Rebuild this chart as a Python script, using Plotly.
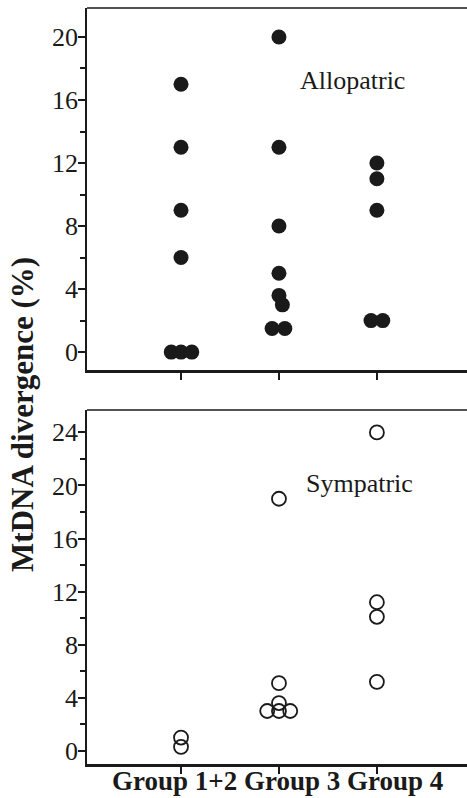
import plotly.graph_objects as go

# ---------------- data ----------------
categories = ["Group 1+2", "Group 3", "Group 4"]

# Allopatric (filled dots)
allo_g12 = [17, 13, 9, 6, 0, 0, 0]
allo_g12_dx = [0, 0, 0, 0, -0.1, 0.0, 0.11]
allo_g3 = [20, 13, 8, 5, 3.6, 3.0, 1.5, 1.5]
allo_g3_dx = [0, 0, 0, 0, 0, 0.035, -0.07, 0.06]
allo_g4 = [12, 11, 9, 2, 2]
allo_g4_dx = [0, 0, 0, -0.06, 0.06]

# Sympatric (open circles)
sym_g12 = [1.0, 0.3]
sym_g12_dx = [0, 0]
sym_g3 = [19, 5.1, 3.6, 3.0, 3.0, 3.0]
sym_g3_dx = [0, 0, 0, -0.12, 0.0, 0.115]
sym_g4 = [24, 11.2, 10.1, 5.2]
sym_g4_dx = [0, 0, 0, 0]

top_ticks = [0, 4, 8, 12, 16, 20]
bottom_ticks = [0, 4, 8, 12, 16, 20, 24]

INK = "#1a1a1a"
FONT = "Liberation Serif"
W, H = 467, 798


def xs(group_idx, dx):
    return [group_idx + 1 + d for d in dx]


allo_x = xs(0, allo_g12_dx) + xs(1, allo_g3_dx) + xs(2, allo_g4_dx)
allo_y = allo_g12 + allo_g3 + allo_g4
sym_x = xs(0, sym_g12_dx) + xs(1, sym_g3_dx) + xs(2, sym_g4_dx)
sym_y = sym_g12 + sym_g3 + sym_g4

fig = go.Figure()
fig.add_trace(go.Scatter(
    x=allo_x, y=allo_y, mode="markers", xaxis="x", yaxis="y",
    marker=dict(size=15, color=INK, line=dict(width=0)),
    showlegend=False, hoverinfo="skip"))
fig.add_trace(go.Scatter(
    x=sym_x, y=sym_y, mode="markers", xaxis="x2", yaxis="y2",
    marker=dict(size=14, color="rgba(0,0,0,0)", line=dict(width=1.8, color=INK)),
    showlegend=False, hoverinfo="skip"))

xrange = [0.04, 3.92]
x_dom = [87 / W, 1.0]
top_dom = [1 - 371 / H, 1 - 8 / H]
bot_dom = [1 - 766 / H, 1 - 411 / H]

common_x = dict(range=xrange, domain=x_dom, showgrid=False, zeroline=False,
                showline=True, linecolor=INK, linewidth=2.5,
                ticks="outside", ticklen=7, tickwidth=1.5, tickcolor=INK,
                tickvals=[1, 2, 3], ticktext=["", "", ""], showticklabels=False)
common_y = dict(showgrid=False, zeroline=False, showline=True, linecolor=INK,
                linewidth=1.6, ticks="outside", ticklen=7, tickwidth=1.5,
                tickcolor=INK, tickfont=dict(family=FONT, size=26, color=INK),
                ticklabelstandoff=-5,
                minor=dict(dtick=2, ticks="outside", ticklen=5, tickwidth=1.5,
                           tickcolor=INK))

fig.update_layout(
    width=W, height=H, margin=dict(l=0, r=0, t=0, b=0),
    paper_bgcolor="white", plot_bgcolor="white",
    xaxis=dict(anchor="y", **common_x),
    yaxis=dict(anchor="x", domain=top_dom, range=[-1.14, 21.84],
               tickvals=top_ticks, **common_y),
    xaxis2=dict(anchor="y2", **common_x),
    yaxis2=dict(anchor="x2", domain=bot_dom, range=[-1.0, 25.69],
                tickvals=bottom_ticks, **common_y),
)

# top frame lines
for xr, yr in (("x domain", "y domain"), ("x2 domain", "y2 domain")):
    fig.add_shape(type="line", xref=xr, yref=yr, x0=0, x1=1, y0=1, y1=1,
                  line=dict(color=INK, width=1.6))

ann = dict(xref="paper", yref="paper", showarrow=False,
           xanchor="center", yanchor="middle")
fig.add_annotation(text="Allopatric", x=352 / W, y=1 - 81 / H,
                   font=dict(family=FONT, size=26, color=INK), **ann)
fig.add_annotation(text="Sympatric", x=359 / W, y=1 - 485 / H,
                   font=dict(family=FONT, size=26, color=INK), **ann)
fig.add_annotation(text="<b>MtDNA divergence (%)</b>", x=23 / W, y=1 - 416 / H,
                   textangle=-90, font=dict(family=FONT, size=31, color=INK), **ann)
fig.add_annotation(text="<b>" + " ".join(categories) + "</b>", x=277.5 / W, y=1 - 783 / H,
                   font=dict(family=FONT, size=27, color=INK), **ann)

fig.write_html("out.html")
